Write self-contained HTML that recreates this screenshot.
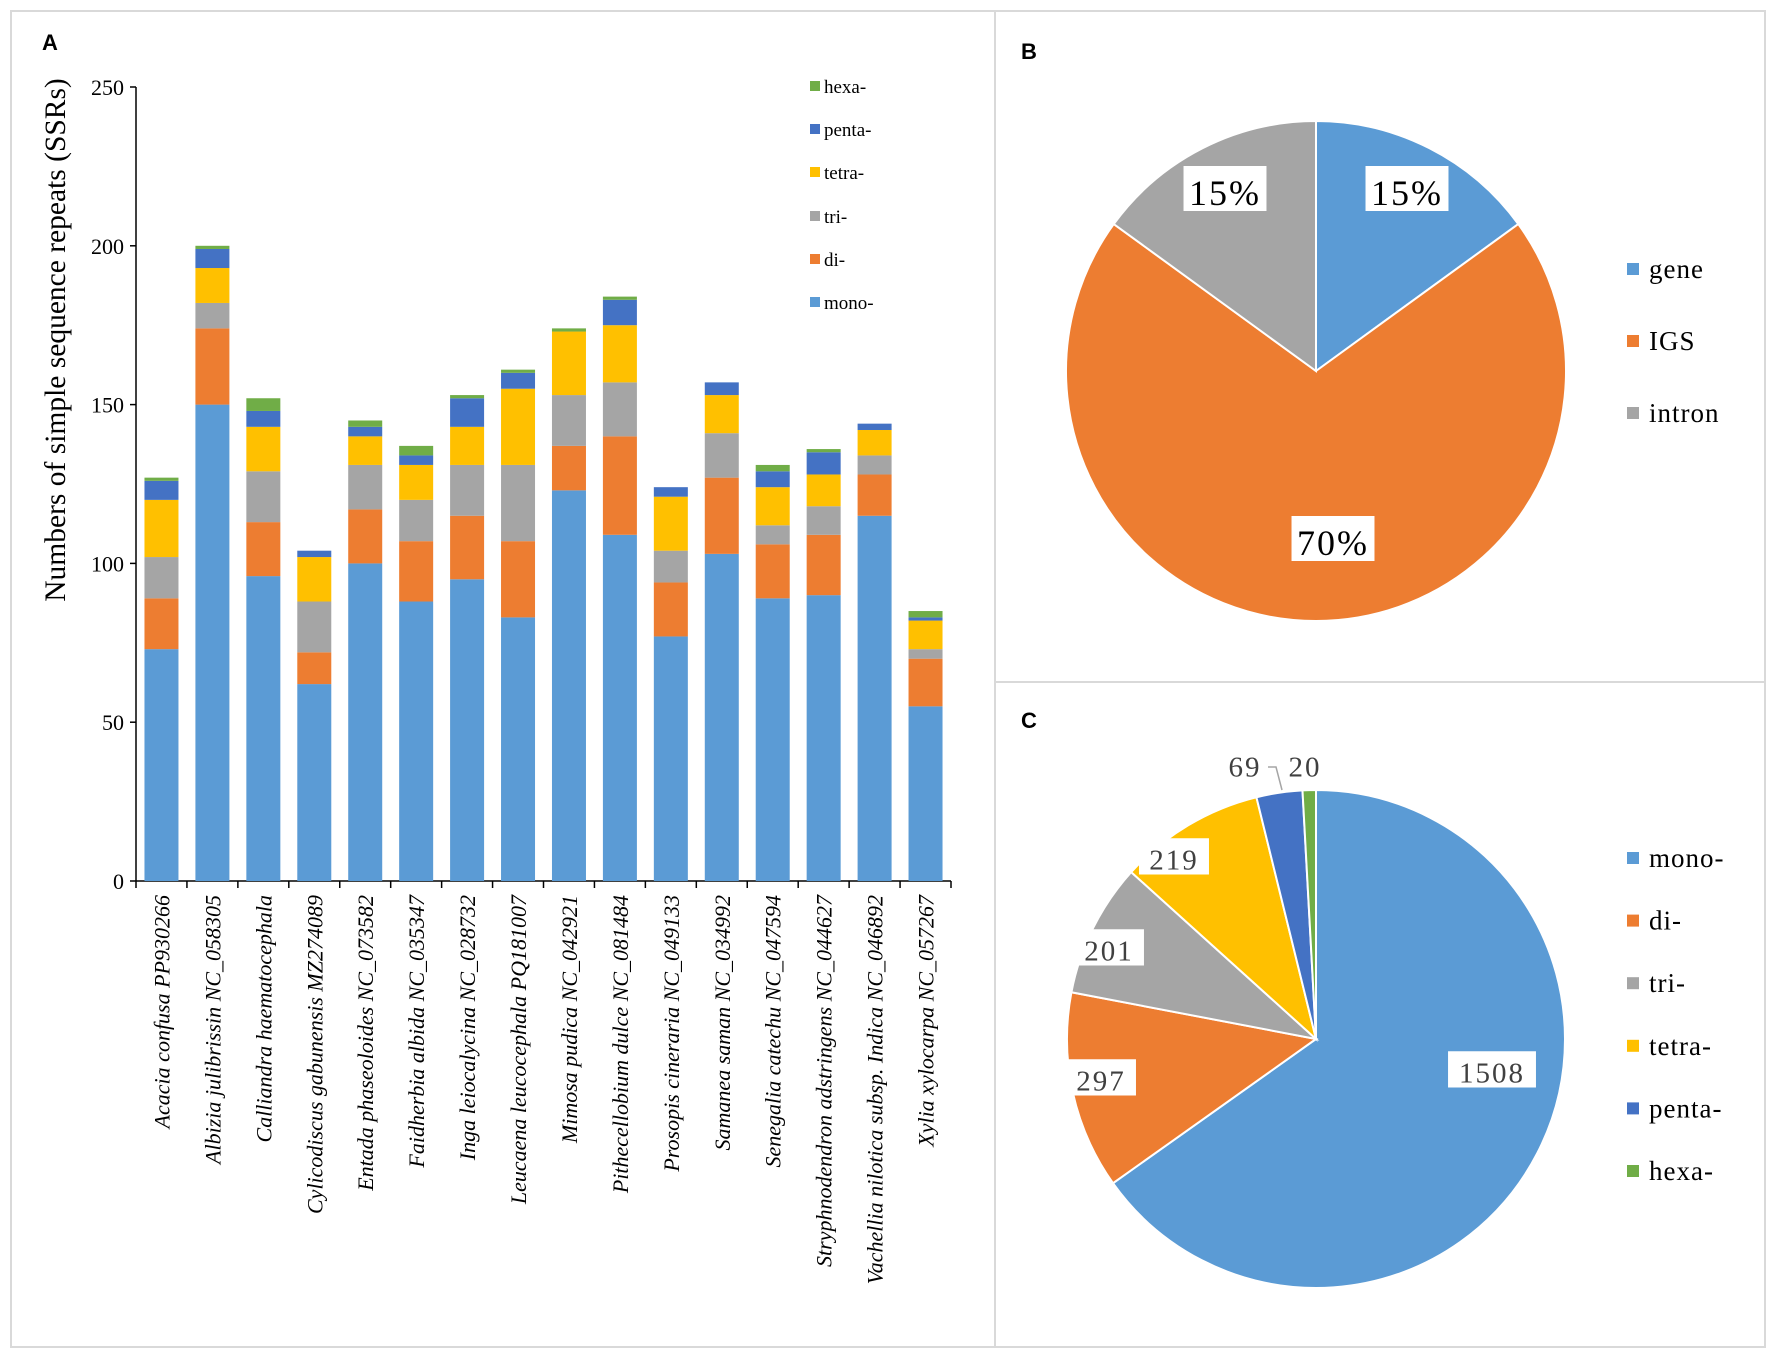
<!DOCTYPE html>
<html><head><meta charset="utf-8"><style>
body{margin:0;background:#fff}
svg{display:block}
text{font-family:"Liberation Serif",serif}
</style></head><body>
<svg id="s" width="1772" height="1359" xmlns="http://www.w3.org/2000/svg">
<rect x="11" y="11" width="1754" height="1336" fill="#fff" stroke="#d9d9d9" stroke-width="2"/>
<line x1="995" y1="11" x2="995" y2="1347" stroke="#d9d9d9" stroke-width="2"/>
<line x1="995" y1="682" x2="1765" y2="682" stroke="#d9d9d9" stroke-width="2"/>
<text x="42" y="50" font-weight="bold" font-size="22" style="font-family:'Liberation Sans',sans-serif">A</text>
<text x="1021" y="59" font-weight="bold" font-size="22" style="font-family:'Liberation Sans',sans-serif">B</text>
<text x="1021" y="728" font-weight="bold" font-size="22" style="font-family:'Liberation Sans',sans-serif">C</text>
<g id="gA"></g>
<g id="gB"></g>
<g id="gC"></g>
</svg>
<script>
const categories=["Acacia confusa PP930266","Albizia julibrissin NC_058305","Calliandra haematocephala","Cylicodiscus gabunensis MZ274089","Entada phaseoloides NC_073582","Faidherbia albida NC_035347","Inga leiocalycina NC_028732","Leucaena leucocephala PQ181007","Mimosa pudica NC_042921","Pithecellobium dulce NC_081484","Prosopis cineraria NC_049133","Samanea saman NC_034992","Senegalia catechu NC_047594","Stryphnodendron adstringens NC_044627","Vachellia nilotica subsp. Indica NC_046892","Xylia xylocarpa NC_057267"];
const mono=[73,150,96,62,100,88,95,83,123,109,77,103,89,90,115,55];
const di=[16,24,17,10,17,19,20,24,14,31,17,24,17,19,13,15];
const tri=[13,8,16,16,14,13,16,24,16,17,10,14,6,9,6,3];
const tetra=[18,11,14,14,9,11,12,24,20,18,17,12,12,10,8,9];
const penta=[6,6,5,2,3,3,9,5,0,8,3,4,5,7,2,1];
const hexa=[1,1,4,0,2,3,1,1,1,1,0,0,2,1,0,2];
const seriesNames=["mono-","di-","tri-","tetra-","penta-","hexa-"];
const colors=["#5b9bd5","#ed7d31","#a5a5a5","#ffc000","#4472c4","#70ad47"];
const yTicks=[0,50,100,150,200,250];
const regionLabels=["gene","IGS","intron"];
const regionValues=[15,70,15];
const typeValues=[1508,297,201,219,69,20];
const NS="http://www.w3.org/2000/svg";
function mk(p,t,a,txt){const e=document.createElementNS(NS,t);for(const k in a)e.setAttribute(k,a[k]);if(txt!==undefined)e.textContent=txt;p.appendChild(e);return e;}
const gA=document.getElementById('gA');
const x0=136,x1=951,y0=881,y1=87,ymax=250;
const Y=v=>y0-(v/ymax)*(y0-y1);
const step=(x1-x0)/categories.length;
const X=i=>x0+step*(i+0.5);
const bw=34;
let l=mk(gA,'line',{x1:x0,y1:y0,x2:x0,y2:y1,stroke:'#000','stroke-width':1.5});

l=mk(gA,'line',{x1:x0,y1:y0,x2:x1,y2:y0,stroke:'#000','stroke-width':1.5});

yTicks.forEach(v=>{
 const t=mk(gA,'line',{x1:x0-6,y1:Y(v),x2:x0,y2:Y(v),stroke:'#000','stroke-width':1.5});
 
 const tx=mk(gA,'text',{x:x0-12,y:Y(v)+8,'text-anchor':'end','font-size':22},String(v));
 
});
for(let i=0;i<=categories.length;i++){
 const t=mk(gA,'line',{x1:x0+step*i,y1:y0,x2:x0+step*i,y2:y0+7,stroke:'#000','stroke-width':1.5});
 
}
const yt=mk(gA,'text',{x:0,y:0,transform:'translate(65,340) rotate(-90)','text-anchor':'middle','font-size':29.5},'Numbers of simple sequence repeats (SSRs)');

const series=[mono,di,tri,tetra,penta,hexa];
categories.forEach((c,i)=>{
 let acc=0;
 series.forEach((s,k)=>{
  const v=s[i];if(v<=0){return;}
  const r=mk(gA,'rect',{x:X(i)-bw/2,y:Y(acc+v),width:bw,height:Y(acc)-Y(acc+v),fill:colors[k]});
  
  
  acc+=v;
 });
 const t=mk(gA,'text',{x:0,y:0,transform:`translate(${X(i)+8},${y0+14}) rotate(-90)`,'text-anchor':'end','font-size':22,'font-style':'italic'},c);
 
});
const legY=[303,260,217,173,130,87];
seriesNames.forEach((n,k)=>{
 const r=mk(gA,'rect',{x:810,y:legY[k]-6,width:10,height:10,fill:colors[k]});
 
 const t=mk(gA,'text',{x:824,y:legY[k]+6,'font-size':19},n);
 
});
function pie(g,cx,cy,r,vals,cols,name){
 const tot=vals.reduce((a,b)=>a+b,0);let a=0;
 vals.forEach((v,i)=>{
  const a0=a/tot*2*Math.PI,a1=(a+v)/tot*2*Math.PI;a+=v;
  const p=t=>[cx+r*Math.sin(t),cy-r*Math.cos(t)];
  const [xa,ya]=p(a0),[xb,yb]=p(a1);
  const e=mk(g,'path',{d:`M${cx},${cy}L${xa},${ya}A${r},${r} 0 ${a1-a0>Math.PI?1:0} 1 ${xb},${yb}Z`,fill:cols[i],stroke:'#fff','stroke-width':2});
  
 });
}
function label(g,x,y,txt,fs,col,box,name){
 const w=txt.length*fs*0.62+16;
 if(box){const b=mk(g,'rect',{x:x-w/2,y:y-fs*0.75,width:w,height:fs*1.25,fill:'#fff'});}
 const t=mk(g,'text',{x:x,y:y+fs*0.33,'text-anchor':'middle','font-size':fs,fill:col,'letter-spacing':2},txt);
 
}
const gB=document.getElementById('gB');
pie(gB,1316,371,250,regionValues,colors.slice(0,3),'region');
label(gB,1407,193,regionValues[0]+'%',36,'#000',true,'label-gene');
label(gB,1225,193,regionValues[2]+'%',36,'#000',true,'label-intron');
label(gB,1333,543,regionValues[1]+'%',36,'#000',true,'label-igs');
regionLabels.forEach((n,k)=>{
 const y=269+k*72;
 const r=mk(gB,'rect',{x:1627,y:y-6,width:12,height:12,fill:colors[k]});
 
 const t=mk(gB,'text',{x:1649,y:y+9,'font-size':27,'letter-spacing':1},n);
 
});
const gC=document.getElementById('gC');
pie(gC,1316,1039,249,typeValues,colors,'type');
const cpos=[[1492,1073],[1101,1081],[1109,951],[1174,860],[1245,767],[1305,767]];
typeValues.forEach((v,i)=>label(gC,cpos[i][0],cpos[i][1],String(v),29,'#404040',i<4,'value-label-'+seriesNames[i].replace('-','')));
l=mk(gC,'polyline',{points:'1268,767 1276,767 1282,790',fill:'none',stroke:'#a5a5a5','stroke-width':1.5});

seriesNames.forEach((n,k)=>{
 const y=858+k*62.6;
 const r=mk(gC,'rect',{x:1627,y:y-6,width:12,height:12,fill:colors[k]});
 
 const t=mk(gC,'text',{x:1649,y:y+9,'font-size':27,'letter-spacing':1},n);
 
});
</script>
</body></html>
